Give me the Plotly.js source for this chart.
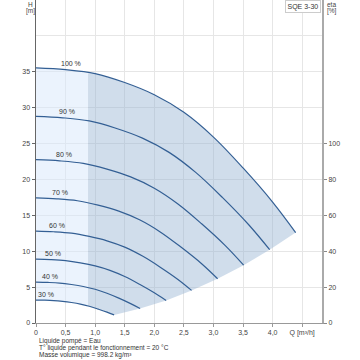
<!DOCTYPE html>
<html><head><meta charset="utf-8">
<script src="https://cdn.plot.ly/plotly-3.0.1.min.js"></script>
<style>html,body{margin:0;padding:0;background:#fff}#chart{width:360px;height:360px}</style>
</head><body><div id="chart"></div>
<script>
// Pump curves (Q in m³/h, H in m)
const curveNames = ['100 %','90 %','80 %','70 %','60 %','50 %','40 %','30 %'];
const q100 = [0, 0.5, 1.0, 1.5, 2.0, 2.5, 3.0, 3.5, 4.0, 4.39];
const h100 = [35.55, 35.3, 34.75, 33.5, 31.8, 29.35, 25.9, 21.6, 16.85, 12.6];
const q90 = [0, 0.45, 0.9, 1.35, 1.8, 2.25, 2.7, 3.15, 3.6, 3.95];
const h90 = [28.8, 28.59, 28.15, 27.14, 25.76, 23.77, 20.98, 17.5, 13.65, 10.21];
const q80 = [0, 0.4, 0.8, 1.2, 1.6, 2.0, 2.4, 2.8, 3.2, 3.51];
const h80 = [22.75, 22.59, 22.24, 21.44, 20.35, 18.78, 16.58, 13.82, 10.78, 8.06];
const q70 = [0, 0.35, 0.7, 1.05, 1.4, 1.75, 2.1, 2.45, 2.8, 3.07];
const h70 = [17.42, 17.3, 17.03, 16.42, 15.58, 14.38, 12.69, 10.58, 8.26, 6.17];
const q60 = [0, 0.3, 0.6, 0.9, 1.2, 1.5, 1.8, 2.1, 2.4, 2.63];
const h60 = [12.8, 12.71, 12.51, 12.06, 11.45, 10.57, 9.32, 7.78, 6.07, 4.54];
const q50 = [0, 0.25, 0.5, 0.75, 1.0, 1.25, 1.5, 1.75, 2.0, 2.2];
const h50 = [8.89, 8.83, 8.69, 8.38, 7.95, 7.34, 6.48, 5.4, 4.21, 3.15];
const q40 = [0, 0.2, 0.4, 0.6, 0.8, 1.0, 1.2, 1.4, 1.6, 1.76];
const h40 = [5.69, 5.65, 5.56, 5.36, 5.09, 4.7, 4.14, 3.46, 2.7, 2.02];
const q30 = [0, 0.15, 0.3, 0.45, 0.6, 0.75, 0.9, 1.05, 1.2, 1.32];
const h30 = [3.2, 3.18, 3.13, 3.02, 2.86, 2.64, 2.33, 1.94, 1.52, 1.13];
// Limit of the recommended range (end points of the curves, 30 % -> 100 %)
const endQ = [1.32, 1.76, 2.2, 2.63, 3.07, 3.51, 3.95, 4.39];
const endH = [1.13, 2.02, 3.15, 4.54, 6.17, 8.06, 10.21, 12.6];
// Split between light and dark zone
const splitQ = 0.88;
const splitH100 = 34.78;
const splitH30 = 2.37;
// Axis tick labels
const xTickVals = [0, 0.5, 1.0, 1.5, 2.0, 2.5, 3.0, 3.5, 4.0, 4.5];
const xTickText = ['0', '0,5', '1,0', '1,5', '2,0', '2,5', '3,0', '3,5', '4,0', 'Q [m³/h]'];
const hTickVals = [0, 5, 10, 15, 20, 25, 30, 35];
const etaTickVals = [0, 20, 40, 60, 80, 100];
const footer = ['Liquide pompé = Eau', 'T° liquide pendant le fonctionnement = 20 °C', 'Masse volumique = 998.2 kg/m³'];
const pumpName = 'SQE 3-30';

const curvesQ = [q100, q90, q80, q70, q60, q50, q40, q30];
const curvesH = [h100, h90, h80, h70, h60, h50, h40, h30];

// light zone polygon
const lx = [], ly = [];
q100.forEach((q, i) => { if (q < splitQ) { lx.push(q); ly.push(h100[i]); } });
lx.push(splitQ, splitQ); ly.push(splitH100, splitH30);
for (let i = q30.length - 1; i >= 0; i--) if (q30[i] < splitQ) { lx.push(q30[i]); ly.push(h30[i]); }
// dark zone polygon
const dx = [splitQ], dy = [splitH100];
q100.forEach((q, i) => { if (q > splitQ) { dx.push(q); dy.push(h100[i]); } });
for (let i = endQ.length - 1; i >= 0; i--) { dx.push(endQ[i]); dy.push(endH[i]); }
for (let i = q30.length - 1; i >= 0; i--) if (q30[i] > splitQ) { dx.push(q30[i]); dy.push(h30[i]); }
dx.push(splitQ); dy.push(splitH30);

const traces = [
  {x: lx, y: ly, type: 'scatter', mode: 'lines', fill: 'toself', fillcolor: 'rgba(215,232,252,0.5)', line: {width: 0}, hoverinfo: 'skip', showlegend: false},
  {x: dx, y: dy, type: 'scatter', mode: 'lines', fill: 'toself', fillcolor: 'rgba(150,180,210,0.45)', line: {width: 0}, hoverinfo: 'skip', showlegend: false}
];
curvesQ.forEach((qs, k) => {
  traces.push({x: qs, y: curvesH[k], type: 'scatter', mode: 'lines', name: curveNames[k],
    line: {color: '#335f94', width: 1.2, shape: 'spline', smoothing: 1}, showlegend: false});
});
// invisible trace to activate right axis
traces.push({x: [0], y: [0], yaxis: 'y2', type: 'scatter', mode: 'markers', marker: {opacity: 0}, hoverinfo: 'skip', showlegend: false});

const font = {family: 'Liberation Sans, Arial, sans-serif', size: 7, color: '#444'};
const annotations = [];
curveNames.forEach((n, k) => {
  annotations.push({x: curvesQ[k][1] * 1.18, y: curvesH[k][1], xref: 'x', yref: 'y', text: n, showarrow: false,
    yanchor: 'middle', yshift: 6, font: {family: font.family, size: 7, color: '#333'}});
});
footer.forEach((t, i) => {
  annotations.push({x: 0, y: 0, xref: 'paper', yref: 'paper', text: t, showarrow: false, xanchor: 'left', yanchor: 'middle',
    xshift: 0.5, yshift: -18.3 - 6.7 * i, font: {family: font.family, size: 6.5, color: '#333'}});
});
annotations.push({x: 0, y: 1, xref: 'paper', yref: 'paper', text: 'H', showarrow: false, xanchor: 'center', yanchor: 'middle', xshift: -6, yshift: -4, font: {family: font.family, size: 6.5, color: '#444'}});
annotations.push({x: 0, y: 1, xref: 'paper', yref: 'paper', text: '[m]', showarrow: false, xanchor: 'center', yanchor: 'middle', xshift: -6, yshift: -11, font: {family: font.family, size: 6.5, color: '#444'}});
annotations.push({x: 1, y: 1, xref: 'paper', yref: 'paper', text: 'eta', showarrow: false, xanchor: 'left', yanchor: 'middle', xshift: 2.5, yshift: -4, font: {family: font.family, size: 6.5, color: '#444'}});
annotations.push({x: 1, y: 1, xref: 'paper', yref: 'paper', text: '[%]', showarrow: false, xanchor: 'left', yanchor: 'middle', xshift: 2.5, yshift: -11, font: {family: font.family, size: 6.5, color: '#444'}});
annotations.push({x: 1, y: 1, xref: 'paper', yref: 'paper', text: pumpName, showarrow: false, xanchor: 'right', yanchor: 'top', xshift: -1, yshift: 0,
  bgcolor: '#fff', bordercolor: '#ccc', borderwidth: 1, borderpad: 1.5, font: {family: font.family, size: 7, color: '#333'}});

const layout = {
  width: 360, height: 360,
  margin: {l: 36, r: 38.3, t: 0, b: 37},
  paper_bgcolor: '#fff', plot_bgcolor: '#fff',
  font: font,
  showlegend: false,
  xaxis: {range: [0, 4.835], tickvals: xTickVals, ticktext: xTickText, showgrid: true, gridcolor: '#e6e6e6', gridwidth: 1,
    showline: true, linecolor: '#999', linewidth: 1, ticks: 'outside', ticklen: 3, tickcolor: '#999', zeroline: false,
    tickfont: font, fixedrange: true},
  yaxis: {range: [0, 45], tickvals: hTickVals, showgrid: true, gridcolor: '#e6e6e6', gridwidth: 1,
    minor: {dtick: 5, tick0: 0, showgrid: true, gridcolor: '#e6e6e6', ticks: ''},
    showline: true, linecolor: '#666', linewidth: 1.5, ticks: 'outside', ticklen: 3, tickcolor: '#666', zeroline: false,
    tickfont: font, fixedrange: true},
  yaxis2: {overlaying: 'y', side: 'right', range: [0, 180], tickvals: etaTickVals, showgrid: false, zeroline: false,
    showline: true, linecolor: '#aaa', linewidth: 2, ticks: 'outside', ticklen: 3, tickcolor: '#888', tickfont: font, fixedrange: true},
  annotations: annotations
};
Plotly.newPlot('chart', traces, layout, {staticPlot: true, displayModeBar: false});
</script></body></html>
